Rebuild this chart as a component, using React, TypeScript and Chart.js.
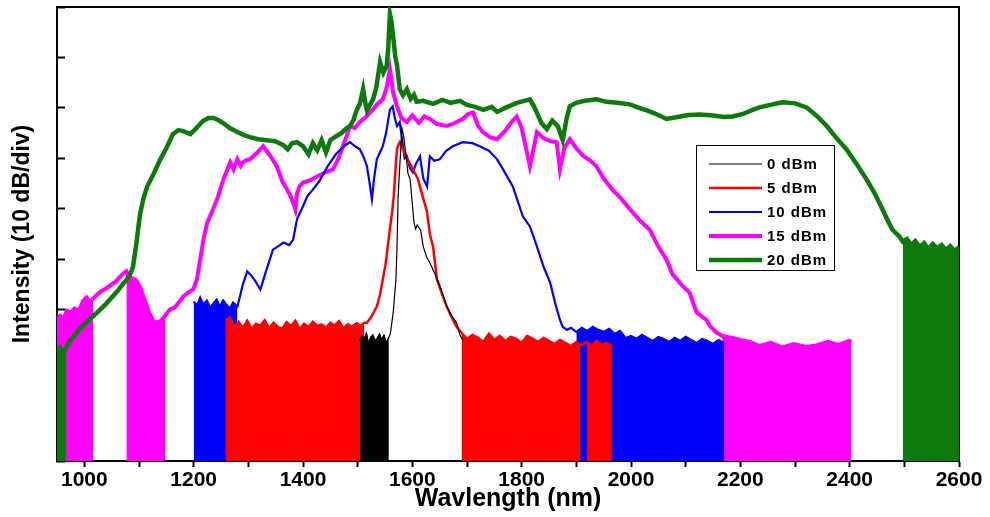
import React, { useEffect, useRef } from "react";
import { Chart, registerables } from "chart.js";

Chart.register(...registerables);

// ---------- data (wavelength nm / relative intensity dB, 10 dB per division) ----------
const xTickValues = [1000, 1200, 1400, 1600, 1800, 2000, 2200, 2400, 2600];
const legendLabels = ["0 dBm", "5 dBm", "10 dBm", "15 dBm", "20 dBm"];

const blackNm = [1504, 1508, 1512, 1516, 1520, 1524, 1528, 1532, 1536, 1540, 1544, 1548, 1552, 1557, 1560, 1565, 1570, 1572, 1574, 1577, 1581, 1584, 1588, 1592, 1596, 1600, 1603, 1606, 1609, 1612, 1615, 1620, 1626, 1632, 1640, 1648, 1656, 1663, 1672, 1681, 1687, 1692];
const blackDb = [23.8, 24.8, 24.2, 25.4, 23.2, 24.6, 25, 23.8, 24.4, 25.2, 24, 25, 23.6, 24.5, 25.4, 29.4, 36, 42.5, 52.5, 58.4, 66, 64.5, 61, 57, 55.8, 51, 47.3, 46, 46.8, 46.2, 45.9, 42.5, 40.5, 39.3, 37.4, 35.4, 33, 30.6, 28.8, 27.4, 25, 24];
const blackBands = [[1504, 1557]];

const redNm = [1258, 1266, 1274, 1282, 1290, 1298, 1306, 1314, 1322, 1330, 1338, 1346, 1354, 1362, 1370, 1378, 1386, 1394, 1402, 1410, 1418, 1426, 1434, 1442, 1450, 1458, 1466, 1474, 1482, 1490, 1498, 1506, 1512, 1517, 1525, 1535, 1541, 1546, 1551, 1555, 1559, 1563, 1566, 1568, 1570, 1572, 1575, 1577, 1582, 1590, 1598, 1605, 1610, 1614, 1620, 1627, 1632, 1638, 1645, 1654, 1663, 1672, 1681, 1690, 1700, 1710, 1720, 1730, 1740, 1750, 1760, 1770, 1780, 1790, 1800, 1810, 1820, 1830, 1840, 1850, 1860, 1870, 1880, 1890, 1900, 1907, 1913, 1919, 1928, 1937, 1946, 1955, 1965];
const redDb = [27.8, 28.4, 26.6, 27.6, 26.4, 27.8, 26.2, 27.2, 26.8, 27.9, 26.3, 27.4, 26.6, 26.2, 27.5, 26.7, 27.8, 26.1, 27.2, 26.5, 27.6, 26.8, 27.1, 26.4, 27.4, 26.9, 27.7, 26.3, 27.1, 26.6, 27.3, 26.8, 27.4, 27.4, 28.6, 30.6, 33, 36, 39, 42.5, 46, 49.3, 52.5, 55.8, 59, 61.8, 62.8, 63.2, 62, 60, 58.5, 57, 56, 54.4, 52, 49.3, 45, 42.5, 36, 33.2, 30.6, 28.5, 26.6, 25.4, 24.2, 25, 24.4, 23.6, 25.2, 24, 24.8, 23.8, 24.6, 24.2, 23.4, 24.8, 24.2, 23.6, 24.4, 23.8, 23.2, 24, 23.4, 22.8, 23.6, 23, 23.2, 23.6, 22.8, 23.8, 23, 23.4, 22.8];
const redBands = [[1258, 1512], [1690, 1907], [1919, 1965]];

const blueNm = [1200, 1206, 1212, 1218, 1224, 1230, 1236, 1242, 1248, 1254, 1260, 1266, 1272, 1280, 1290, 1298, 1305, 1312, 1322, 1332, 1345, 1355, 1364, 1375, 1382, 1389, 1398, 1408, 1418, 1430, 1445, 1460, 1475, 1486, 1495, 1504, 1512, 1517, 1522, 1526, 1530, 1535, 1540, 1546, 1552, 1559, 1564, 1568, 1572, 1577, 1582, 1586, 1590, 1596, 1601, 1607, 1614, 1620, 1627, 1632, 1640, 1650, 1662, 1674, 1692, 1710, 1723, 1740, 1755, 1766, 1784, 1802, 1815, 1828, 1840, 1852, 1862, 1870, 1875, 1883, 1890, 1900, 1910, 1920, 1930, 1940, 1950, 1960, 1970, 1980, 1990, 2000, 2010, 2020, 2030, 2040, 2050, 2060, 2070, 2080, 2090, 2100, 2110, 2120, 2130, 2140, 2150, 2160, 2170];
const blueDb = [31.6, 30.8, 32.4, 31, 31.8, 30.4, 31.2, 32, 30.6, 31.8, 31, 30.2, 31.4, 30.6, 35, 37.6, 36.8, 35.8, 34, 37.5, 41.9, 42.6, 43.3, 42.8, 43.9, 47.9, 50, 52.5, 53.8, 55.5, 58.4, 60.8, 62.4, 63.2, 62.4, 61.8, 60, 58.4, 55, 51.9, 56, 59.8, 61, 62.4, 65, 69.7, 70.3, 68, 66.4, 67.2, 63, 60, 60.4, 58, 57.2, 59, 60.4, 56, 54.4, 60.4, 59.5, 59.8, 61.5, 62.4, 63.2, 63, 62.4, 61.5, 59.8, 57.8, 54.4, 48.5, 46.5, 42.5, 38.5, 35.4, 31, 28, 26.6, 26, 26.4, 25.6, 26.4, 25.8, 26.6, 26, 25.6, 26.2, 25.2, 25.8, 24.4, 24.8, 24.2, 25, 24.4, 23.8, 24.6, 24.2, 23.6, 24.4, 23.8, 24.6, 24, 23.4, 24.2, 23.8, 23.2, 24, 23.4];
const blueBands = [[1200, 1280], [1900, 2170]];

const magentaNm = [950, 956, 962, 968, 975, 982, 990, 998, 1004, 1010, 1016, 1024, 1030, 1040, 1050, 1058, 1066, 1072, 1077, 1082, 1088, 1095, 1102, 1110, 1118, 1126, 1133, 1140, 1148, 1156, 1165, 1173, 1181, 1190, 1199, 1206, 1212, 1218, 1225, 1234, 1243, 1255, 1267, 1273, 1280, 1286, 1290, 1296, 1303, 1315, 1327, 1340, 1352, 1362, 1371, 1377, 1382, 1386, 1389, 1394, 1400, 1412, 1426, 1440, 1455, 1465, 1473, 1480, 1486, 1495, 1504, 1516, 1528, 1538, 1546, 1553, 1559, 1565, 1572, 1580, 1590, 1600, 1612, 1622, 1632, 1645, 1663, 1678, 1692, 1702, 1711, 1720, 1729, 1742, 1755, 1770, 1783, 1791, 1800, 1808, 1815, 1822, 1828, 1840, 1852, 1864, 1870, 1878, 1888, 1900, 1912, 1925, 1937, 1950, 1966, 1982, 1998, 2015, 2034, 2050, 2065, 2076, 2084, 2095, 2107, 2120, 2130, 2138, 2144, 2155, 2167, 2176, 2186, 2200, 2217, 2235, 2256, 2277, 2298, 2320, 2339, 2360, 2380, 2399, 2403];
const magentaDb = [28.4, 28.8, 28.2, 29.8, 29.4, 30.2, 29.8, 31.8, 32.4, 31.4, 32.2, 33, 33.6, 34.2, 35, 35.6, 36.6, 37.2, 37.6, 36.4, 36.2, 35.8, 34.5, 32, 29.5, 27.8, 27.4, 27.8, 28.8, 30, 30.4, 31.4, 32.6, 33.4, 34, 36, 40, 44, 47.3, 49.5, 51.9, 56, 59.2, 57.8, 59.8, 58.5, 59.2, 59.6, 59.8, 61, 62.4, 60.5, 58.4, 55.5, 53.8, 52.5, 51.2, 49.9, 53, 54.5, 55.2, 55.6, 56.4, 57.2, 57.8, 60, 62.4, 64.5, 66.4, 66, 67.2, 68.3, 69.7, 71, 71.7, 74, 77.7, 73, 70.3, 68, 67.2, 68.5, 67, 68.3, 67.8, 66.8, 66.4, 67, 67.8, 68.8, 69.1, 66.5, 65.2, 64.2, 63.8, 65.5, 67.4, 68.3, 66, 62, 58.4, 62, 65.2, 64, 63.4, 63.2, 57.8, 62, 63.8, 62, 60.5, 59.6, 58.4, 56, 53.8, 52, 49.9, 47.8, 45.9, 42.5, 39.9, 37, 36, 34.6, 33.4, 29.5, 28.6, 28, 26.8, 25.6, 24.8, 24.6, 24.4, 24, 23.6, 22.8, 23.4, 22.5, 23.2, 22.6, 22.9, 23.6, 23, 23.8, 23.6];
const magentaBands = [[950, 1016], [1077, 1148], [2167, 2403]];

const greenNm = [950, 955, 960, 967, 975, 985, 993, 1005, 1015, 1029, 1040, 1050, 1060, 1070, 1078, 1084, 1089, 1095, 1102, 1108, 1115, 1127, 1139, 1150, 1162, 1172, 1181, 1194, 1205, 1217, 1227, 1236, 1245, 1254, 1266, 1280, 1292, 1303, 1318, 1334, 1349, 1364, 1372, 1380, 1389, 1400, 1410, 1418, 1426, 1434, 1442, 1450, 1458, 1470, 1478, 1486, 1492, 1498, 1504, 1510, 1514, 1517, 1522, 1528, 1534, 1541, 1547, 1553, 1556, 1559, 1562, 1565, 1569, 1572, 1577, 1583, 1590, 1597, 1603, 1608, 1620, 1638, 1655, 1670, 1687, 1700, 1715, 1730, 1745, 1755, 1770, 1791, 1805, 1815, 1822, 1828, 1836, 1846, 1856, 1866, 1875, 1882, 1888, 1900, 1915, 1937, 1955, 1975, 1998, 2015, 2034, 2050, 2065, 2085, 2105, 2126, 2150, 2170, 2186, 2205, 2220, 2235, 2255, 2277, 2300, 2321, 2340, 2358, 2376, 2394, 2412, 2431, 2446, 2460, 2470, 2478, 2486, 2491, 2497, 2505, 2512, 2520, 2528, 2536, 2544, 2552, 2560, 2568, 2576, 2584, 2592, 2600];
const greenDb = [21.5, 22.4, 21.2, 22.6, 24, 25.2, 26.4, 27.6, 28.6, 30, 31.2, 32.4, 33.6, 35, 36, 37, 38.5, 43, 49, 52, 54.4, 57, 59.8, 62, 64.8, 65.6, 65.4, 64.8, 66, 67.4, 68, 68, 67.6, 67, 66, 65.2, 64.6, 64.2, 63.8, 63.6, 63.4, 62.6, 61.8, 63, 63.2, 62.4, 60.8, 63, 61.6, 63.6, 61.2, 63.6, 64.2, 65, 65.8, 66.4, 67.5, 69.5, 70.8, 73.7, 71, 69.5, 70.5, 71.7, 74, 79.1, 77, 78.3, 82, 88.6, 87, 84, 80, 78.5, 73.7, 72.5, 73.7, 71.8, 72.6, 71.2, 71.4, 70.8, 71.6, 71, 71.4, 70.6, 70.2, 69.6, 70.2, 69.2, 70, 71, 71.4, 71.7, 70.4, 69, 67, 65.8, 67.5, 66.4, 63.6, 67.8, 70.3, 71, 71.4, 71.7, 71.2, 71, 70.7, 70, 69.3, 68.6, 67.8, 68.2, 68.6, 68.7, 68.5, 68.2, 68.3, 68.8, 69.5, 70.1, 70.6, 71.1, 70.9, 70.1, 68.4, 66.4, 64, 61.8, 59, 55.8, 53, 49.9, 47.6, 45.9, 45, 44.5, 43.5, 44, 42.8, 43.6, 42.4, 43.2, 42, 43, 42.2, 42.8, 41.8, 42.6, 41.6, 42.4];
const greenBands = [[950, 967], [2497, 2600]];

// ---------- styling ----------
const SANS = 'Arial, "Liberation Sans", Helvetica, sans-serif';

type Series = { label: string; color: string; width: number; nm: number[]; db: number[]; bands: number[][]; legendIndex: number };

// listed from top-most drawn to bottom-most drawn
const seriesList: Series[] = [
  { label: legendLabels[0], color: "#000000", width: 1.2, nm: blackNm, db: blackDb, bands: blackBands, legendIndex: 0 },
  { label: legendLabels[1], color: "#ff0000", width: 2.5, nm: redNm, db: redDb, bands: redBands, legendIndex: 1 },
  { label: legendLabels[2], color: "#0000ff", width: 2.2, nm: blueNm, db: blueDb, bands: blueBands, legendIndex: 2 },
  { label: legendLabels[4], color: "#0d7a0d", width: 4.5, nm: greenNm, db: greenDb, bands: greenBands, legendIndex: 4 },
  { label: legendLabels[3], color: "#ff00ff", width: 4, nm: magentaNm, db: magentaDb, bands: magentaBands, legendIndex: 3 },
];

function buildDatasets() {
  const ds: any[] = [];
  for (const s of seriesList) {
    const pts = s.nm.map((x, i) => ({ x, y: s.db[i] }));
    ds.push({
      label: s.label,
      data: pts,
      borderColor: s.color,
      backgroundColor: s.color,
      borderWidth: s.width,
      pointRadius: 0,
      tension: 0,
      fill: false,
      isSeries: true,
      legendIndex: s.legendIndex,
      legendWidth: s.width,
    });
    for (const [a, b] of s.bands) {
      ds.push({
        label: "",
        data: pts.filter((p) => p.x >= a && p.x <= b),
        borderColor: s.color,
        backgroundColor: s.color,
        borderWidth: 1,
        pointRadius: 0,
        tension: 0,
        fill: "start",
        isSeries: false,
      });
    }
  }
  return ds;
}

const framePlugin = {
  id: "frameBox",
  beforeDatasetsDraw(chart: any) {
    const { ctx, chartArea: a } = chart;
    ctx.save();
    ctx.strokeStyle = "#000";
    ctx.lineWidth = 2;
    ctx.beginPath();
    ctx.moveTo(a.left, a.top);
    ctx.lineTo(a.right, a.top);
    ctx.lineTo(a.right, a.bottom);
    ctx.stroke();
    ctx.restore();
  },
};

const boxLegendPlugin = {
  id: "boxLegend",
  afterDatasetsDraw(chart: any) {
    const { ctx, chartArea: a } = chart;
    const items = chart.data.datasets
      .filter((d: any) => d.isSeries)
      .sort((p: any, q: any) => p.legendIndex - q.legendIndex);
    const left = a.left + 639;
    const top = a.top + 138;
    const w = 138;
    const h = 125;
    ctx.save();
    ctx.fillStyle = "#fff";
    ctx.fillRect(left, top, w, h);
    ctx.strokeStyle = "#000";
    ctx.lineWidth = 1;
    ctx.strokeRect(left + 0.5, top + 0.5, w, h);
    ctx.font = `bold 15px ${SANS}`;
    (ctx as any).letterSpacing = "1px";
    ctx.textBaseline = "middle";
    ctx.textAlign = "left";
    items.forEach((d: any, i: number) => {
      const y = top + 19 + i * 24;
      ctx.strokeStyle = d.borderColor;
      ctx.lineWidth = d.legendWidth;
      ctx.beginPath();
      ctx.moveTo(left + 13, y);
      ctx.lineTo(left + 66, y);
      ctx.stroke();
      ctx.fillStyle = "#000";
      ctx.fillText(d.label, left + 71, y + 1);
    });
    ctx.restore();
  },
};

export default function App() {
  const canvasRef = useRef<HTMLCanvasElement | null>(null);

  useEffect(() => {
    document.body.style.margin = "0";
    const canvas = canvasRef.current;
    if (!canvas) return;
    const chart = new Chart(canvas, {
      type: "line",
      data: { datasets: buildDatasets() },
      plugins: [framePlugin, boxLegendPlugin],
      options: {
        animation: false,
        responsive: false,
        devicePixelRatio: 1,
        layout: { padding: { left: 0, right: 31, top: 7, bottom: 0 } },
        plugins: {
          legend: { display: false },
          tooltip: { enabled: false },
        },
        scales: {
          x: {
            type: "linear",
            min: 950,
            max: 2600,
            ticks: {
              stepSize: 100,
              includeBounds: false,
              autoSkip: false,
              maxRotation: 0,
              color: "#000",
              padding: 1,
              font: { family: SANS, size: 21, weight: "bold" },
              callback: (v: any) => (xTickValues.includes(Number(v)) ? String(v) : ""),
            },
            grid: { display: true, drawOnChartArea: false, drawTicks: true, tickLength: 6, tickWidth: 2, tickColor: "#000" },
            border: { display: true, color: "#000", width: 2 },
            title: {
              display: true,
              text: "Wavlength (nm)",
              color: "#000",
              font: { family: SANS, size: 25, weight: "bold", lineHeight: 1 },
              padding: { top: 0, bottom: 5 },
            },
            afterFit: (s: any) => {
              s.height = 56;
            },
          },
          y: {
            type: "linear",
            min: 0,
            max: 90,
            ticks: { stepSize: 10, display: false },
            grid: { display: true, drawOnChartArea: false, drawTicks: true, tickLength: -8, tickWidth: 2, tickColor: "#000" },
            border: { display: true, color: "#000", width: 2 },
            title: {
              display: true,
              text: "Intensity (10 dB/div)",
              color: "#000",
              font: { family: SANS, size: 23, weight: "bold", lineHeight: 1 },
              padding: { top: 11, bottom: 0 },
            },
            afterFit: (s: any) => {
              s.width = 57;
            },
          },
        },
      } as any,
    });
    return () => chart.destroy();
  }, []);

  return (
    <div style={{ position: "fixed", left: 0, top: 0, width: 990, height: 517, background: "#fff" }}>
      <canvas ref={canvasRef} width={990} height={517} style={{ display: "block" }} />
    </div>
  );
}
